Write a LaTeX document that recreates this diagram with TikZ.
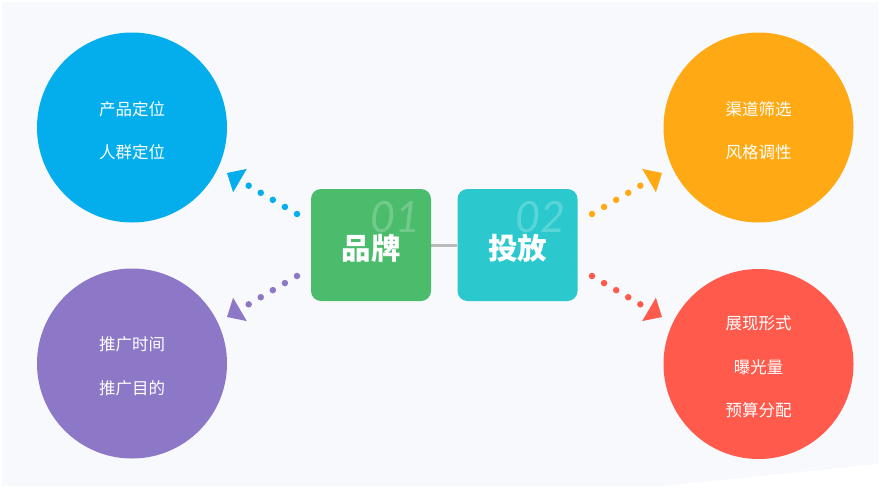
\documentclass[tikz,border=0pt]{standalone}
\usepackage{fontspec}
\newfontfamily\cjk{Noto Sans CJK SC}
\newfontfamily\numfont{Lato}
\usetikzlibrary{arrows.meta}
\pgfdeclarelayer{bg}
\pgfdeclarelayer{linklayer}
\pgfsetlayers{bg,linklayer,main}
\definecolor{cblue}{HTML}{04AEEC}
\definecolor{corange}{HTML}{FFAA14}
\definecolor{cpurple}{HTML}{8D77C7}
\definecolor{cred}{HTML}{FF5A4B}
\definecolor{cgreen}{HTML}{4ABC6B}
\definecolor{cteal}{HTML}{2BC9CD}
\definecolor{clink}{HTML}{BBBBBB}
\definecolor{cpanel}{HTML}{F8F9FC}
\tikzset{
  bubble/.style={circle, minimum size=190pt, inner sep=0pt},
  bubbletext/.style={text=white, align=center, inner sep=0pt, yshift=-3pt,
    font=\cjk\fontsize{16.5}{43.5}\selectfont},
  keybox/.style={rounded corners=10pt, minimum width=120pt, minimum height=112pt,
    inner sep=0pt},
  boxtext/.style={text=white, inner sep=0pt, yshift=-3pt,
    font=\cjk\bfseries\fontsize{29.5}{32}\selectfont},
  numlabel/.style={text=white, text opacity=0.22, inner sep=0pt,
    font=\numfont\itshape\fontsize{43}{43}\selectfont},
  dotlink/.style={line width=6.5pt, line cap=round, dash pattern=on 0pt off 14pt,
    -{Triangle[length=15pt,width=27pt,line width=0pt]}},
}
\begin{document}
\begin{tikzpicture}[x=1pt,y=-1pt]
\useasboundingbox (0,0) rectangle (880,488);
\begin{pgfonlayer}{bg}
  \fill[white] (0,0) rectangle (880,488);
  \fill[cpanel] (2,2) -- (878,2) -- (878,464) -- (662,486) -- (2,486) -- cycle;
\end{pgfonlayer}

% circles
\node[bubble, fill=cblue, label={[bubbletext]center:{产品定位\\人群定位}}] (c1) at (132,127.5) {};
\node[bubble, fill=corange, label={[bubbletext]center:{渠道筛选\\风格调性}}] (c2) at (758.5,127.5) {};
\node[bubble, fill=cpurple, label={[bubbletext]center:{推广时间\\推广目的}}] (c3) at (132,363.5) {};
\node[bubble, fill=cred, label={[bubbletext]center:{展现形式\\曝光量\\预算分配}}] (c4) at (758.5,364) {};

% central boxes
\node[keybox, fill=cgreen] (b1) at (371,245) {};
\node[keybox, fill=cteal]  (b2) at (517.5,245) {};
\node[numlabel] (n1) at (395,217) {01};
\node[numlabel] (n2) at (540,217) {02};
\node[boxtext] (t1text) at (b1.center) {品牌};
\node[boxtext] (t2text) at (b2.center) {投放};

\begin{pgfonlayer}{linklayer}
  \draw[clink, line width=3pt] (b1) -- (b2);
\end{pgfonlayer}

% connector endpoints
\coordinate (s1) at (297,214); \coordinate (t1) at (227,173);
\coordinate (s3) at (297,276); \coordinate (t3) at (227,317);
\coordinate (s2) at (592,214); \coordinate (t2) at (662,173);
\coordinate (s4) at (592,276); \coordinate (t4) at (662,317);

\draw[dotlink, cblue]   (s1) -- (t1);
\draw[dotlink, cpurple] (s3) -- (t3);
\draw[dotlink, corange] (s2) -- (t2);
\draw[dotlink, cred]    (s4) -- (t4);
\end{tikzpicture}
\end{document}
